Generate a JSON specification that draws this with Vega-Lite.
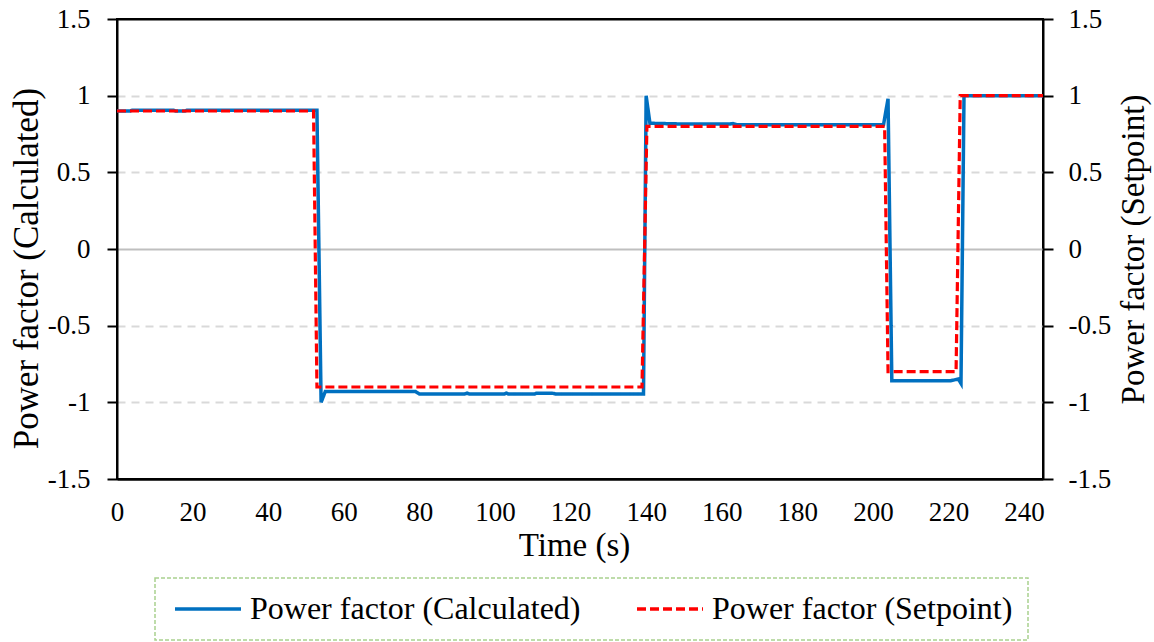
{
  "$schema": "https://vega.github.io/schema/vega-lite/v6.json",
  "autosize": "none",
  "width": 926,
  "height": 460,
  "padding": {"left": 117, "top": 19, "right": 111, "bottom": 163},
  "background": "white",
  "config": {
    "view": {"stroke": "black", "strokeWidth": 2},
    "font": "Liberation Serif",
    "axis": {
      "labelFont": "Liberation Serif",
      "titleFont": "Liberation Serif",
      "labelColor": "black",
      "titleColor": "black",
      "labelFontSize": 27,
      "titleFontSize": 33,
      "titleFontWeight": "normal",
      "domainColor": "black",
      "domainWidth": 2,
      "tickColor": "black",
      "tickWidth": 2,
      "labelOverlap": false,
      "labelFlush": false
    }
  },
  "datasets": {
    "pf": [
      {"t": 0, "v": 0.9, "series": "Power factor (Calculated)"},
      {"t": 3.5, "v": 0.9, "series": "Power factor (Calculated)"},
      {"t": 4, "v": 0.905, "series": "Power factor (Calculated)"},
      {"t": 15, "v": 0.905, "series": "Power factor (Calculated)"},
      {"t": 15.5, "v": 0.9, "series": "Power factor (Calculated)"},
      {"t": 18, "v": 0.9, "series": "Power factor (Calculated)"},
      {"t": 18.5, "v": 0.905, "series": "Power factor (Calculated)"},
      {"t": 52.9, "v": 0.905, "series": "Power factor (Calculated)"},
      {"t": 54.0, "v": -1.0, "series": "Power factor (Calculated)"},
      {"t": 55.1, "v": -0.93, "series": "Power factor (Calculated)"},
      {"t": 79, "v": -0.93, "series": "Power factor (Calculated)"},
      {"t": 80, "v": -0.945, "series": "Power factor (Calculated)"},
      {"t": 92, "v": -0.945, "series": "Power factor (Calculated)"},
      {"t": 92.6, "v": -0.94, "series": "Power factor (Calculated)"},
      {"t": 93.2, "v": -0.945, "series": "Power factor (Calculated)"},
      {"t": 102.5, "v": -0.945, "series": "Power factor (Calculated)"},
      {"t": 103, "v": -0.94, "series": "Power factor (Calculated)"},
      {"t": 103.5, "v": -0.945, "series": "Power factor (Calculated)"},
      {"t": 110.5, "v": -0.945, "series": "Power factor (Calculated)"},
      {"t": 111, "v": -0.94, "series": "Power factor (Calculated)"},
      {"t": 115, "v": -0.94, "series": "Power factor (Calculated)"},
      {"t": 116, "v": -0.945, "series": "Power factor (Calculated)"},
      {"t": 139.3, "v": -0.945, "series": "Power factor (Calculated)"},
      {"t": 140.0, "v": 1.0, "series": "Power factor (Calculated)"},
      {"t": 141.0, "v": 0.82, "series": "Power factor (Calculated)"},
      {"t": 150, "v": 0.815, "series": "Power factor (Calculated)"},
      {"t": 162, "v": 0.815, "series": "Power factor (Calculated)"},
      {"t": 163, "v": 0.818, "series": "Power factor (Calculated)"},
      {"t": 164, "v": 0.81, "series": "Power factor (Calculated)"},
      {"t": 202.8, "v": 0.81, "series": "Power factor (Calculated)"},
      {"t": 204.0, "v": 0.98, "series": "Power factor (Calculated)"},
      {"t": 205.0, "v": -0.86, "series": "Power factor (Calculated)"},
      {"t": 220.4, "v": -0.86, "series": "Power factor (Calculated)"},
      {"t": 222.6, "v": -0.848, "series": "Power factor (Calculated)"},
      {"t": 223.3, "v": -0.876, "series": "Power factor (Calculated)"},
      {"t": 224.1, "v": 1.0, "series": "Power factor (Calculated)"},
      {"t": 245, "v": 1.0, "series": "Power factor (Calculated)"},
      {"t": 0, "v": 0.9, "series": "Power factor (Setpoint)"},
      {"t": 52.0, "v": 0.9, "series": "Power factor (Setpoint)"},
      {"t": 52.9, "v": -0.9, "series": "Power factor (Setpoint)"},
      {"t": 138.9, "v": -0.9, "series": "Power factor (Setpoint)"},
      {"t": 140.2, "v": 0.8, "series": "Power factor (Setpoint)"},
      {"t": 203.1, "v": 0.8, "series": "Power factor (Setpoint)"},
      {"t": 204.0, "v": -0.8, "series": "Power factor (Setpoint)"},
      {"t": 222.0, "v": -0.8, "series": "Power factor (Setpoint)"},
      {"t": 223.1, "v": 1.0, "series": "Power factor (Setpoint)"},
      {"t": 245, "v": 1.0, "series": "Power factor (Setpoint)"}
    ]
  },
  "data": {"name": "pf"},
  "encoding": {
    "x": {
      "field": "t",
      "type": "quantitative",
      "scale": {"domain": [0, 245], "nice": false, "zero": false},
      "axis": {
        "title": "Time (s)",
        "values": [0, 20, 40, 60, 80, 100, 120, 140, 160, 180, 200, 220, 240],
        "ticks": false,
        "tickSize": 0,
        "grid": false,
        "labelPadding": 20,
        "titlePadding": 4,
        "titleX": 457
      }
    },
    "color": {
      "field": "series",
      "type": "nominal",
      "scale": {
        "domain": ["Power factor (Calculated)", "Power factor (Setpoint)"],
        "range": ["#0070C0", "#FF0000"]
      },
      "legend": {
        "title": null,
        "orient": "none",
        "legendX": 38,
        "legendY": 559,
        "direction": "horizontal",
        "labelFont": "Liberation Serif",
        "labelFontSize": 32,
        "labelColor": "black",
        "labelLimit": 0,
        "labelOffset": 48,
        "symbolType": "M-1,0H5",
        "symbolSize": 484,
        "symbolStrokeWidth": 3.5,
        "columnPadding": 49,
        "padding": 15,
        "strokeColor": "#A9D18E",
        "encode": {
          "legend": {"update": {"strokeDash": {"value": [4, 2]}, "strokeWidth": {"value": 1.5}}}
        }
      }
    },
    "strokeDash": {
      "field": "series",
      "type": "nominal",
      "scale": {
        "domain": ["Power factor (Calculated)", "Power factor (Setpoint)"],
        "range": [[1, 0], [9, 4]]
      },
      "legend": null
    }
  },
  "layer": [
    {
      "transform": [{"filter": "datum.series === 'Power factor (Calculated)'"}],
      "mark": {"type": "line", "strokeWidth": 3.5, "interpolate": "linear"},
      "encoding": {
        "y": {
          "field": "v",
          "type": "quantitative",
          "scale": {"domain": [-1.5, 1.5], "nice": false, "zero": false},
          "axis": {
            "orient": "left",
            "title": "Power factor  (Calculated)",
            "values": [-1.5, -1, -0.5, 0, 0.5, 1, 1.5],
            "labelExpr": "'' + datum.value",
            "tickSize": 10,
            "labelPadding": 17,
            "titlePadding": 3,
            "titleY": 249,
            "titleFontSize": 35,
            "grid": true,
            "gridColor": {"condition": [{"test": "abs(datum.value) === 1.5", "value": "black"}, {"test": "datum.value === 0", "value": "#BFBFBF"}], "value": "#D9D9D9"},
            "gridDash": {"condition": [{"test": "abs(datum.value) === 1.5", "value": []}, {"test": "datum.value === 0", "value": []}], "value": [8, 6]},
            "gridWidth": 2
          }
        }
      }
    },
    {
      "transform": [{"filter": "datum.series === 'Power factor (Setpoint)'"}],
      "mark": {"type": "line", "strokeWidth": 3.2, "interpolate": "linear"},
      "encoding": {
        "y": {
          "field": "v",
          "type": "quantitative",
          "scale": {"domain": [-1.5, 1.5], "nice": false, "zero": false},
          "axis": {
            "orient": "right",
            "title": "Power factor  (Setpoint)",
            "values": [-1.5, -1, -0.5, 0, 0.5, 1, 1.5],
            "labelExpr": "'' + datum.value",
            "tickSize": 10,
            "labelPadding": 15,
            "titlePadding": 7,
            "titleAngle": -90,
            "titleBaseline": "top",
            "titleFontSize": 33,
            "grid": false
          }
        }
      }
    }
  ],
  "resolve": {"scale": {"y": "independent"}}
}
